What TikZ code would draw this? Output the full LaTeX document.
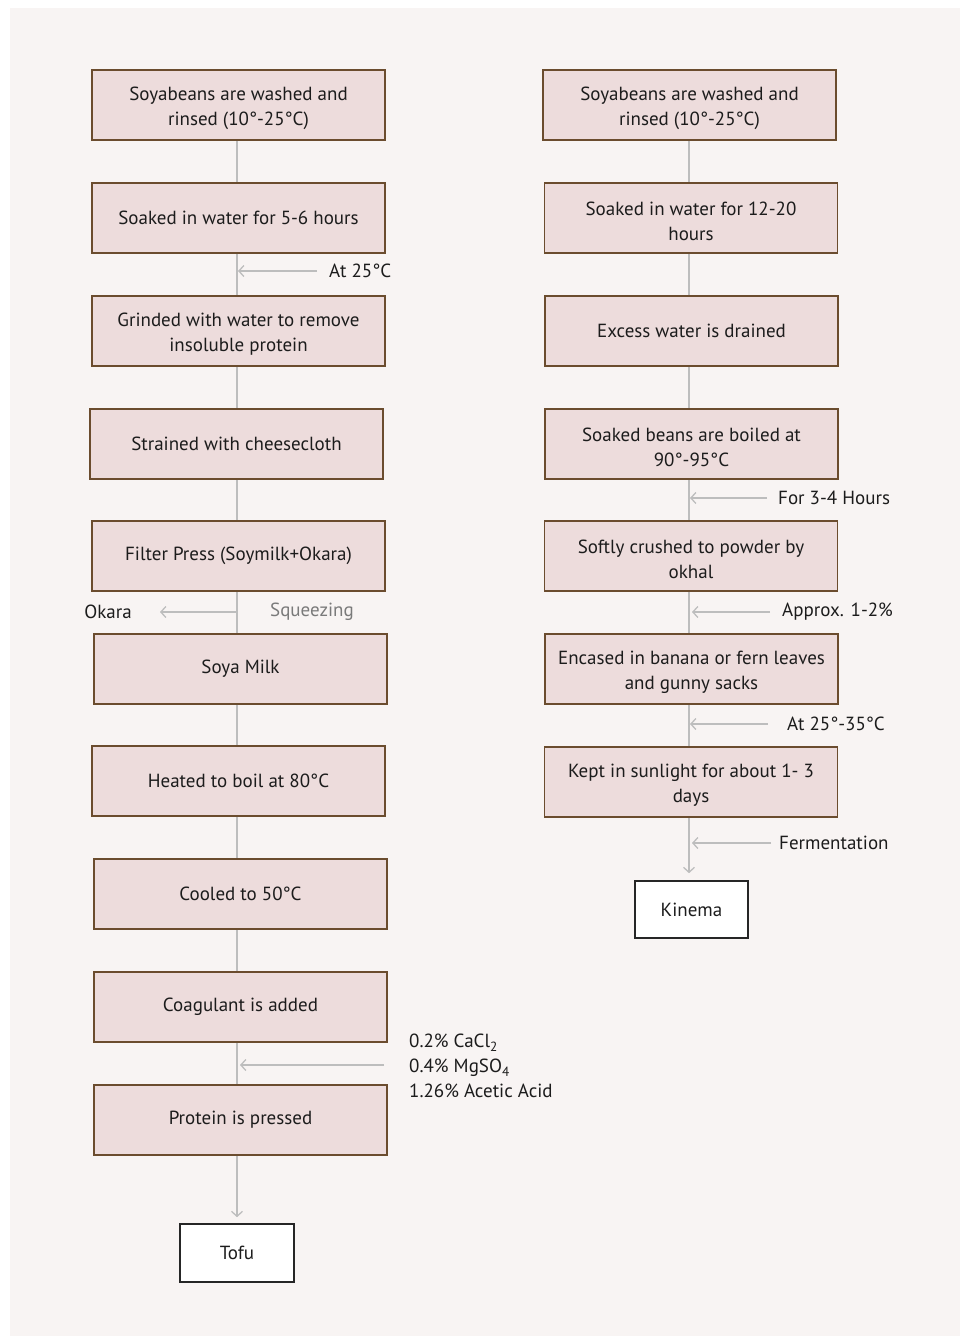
\documentclass[tikz,border=0pt]{standalone}
\usepackage{fontspec}
\setmainfont{PT Sans}
\usetikzlibrary{arrows.meta}
\definecolor{bg}{HTML}{F8F4F3}
\definecolor{boxfill}{HTML}{EDDCDC}
\definecolor{boxline}{HTML}{6B4C2E}
\definecolor{conn}{HTML}{BDBDBD}
\definecolor{txt}{HTML}{1C1C1C}
\definecolor{soft}{HTML}{7A7A7A}
\newcommand{\dg}{°}
\newcommand{\tup}{\rule{0pt}{20pt}}
\begin{document}
\begin{tikzpicture}[x=1pt,y=-1pt,
  stepbox/.style={draw=boxline,fill=boxfill,line width=1.6pt,minimum width=293pt,minimum height=70pt,align=center,inner sep=0pt,text=txt,font=\fontsize{19}{25}\selectfont},
  endbox/.style={draw=black!85,fill=white,line width=1.6pt,minimum width=113pt,minimum height=57pt,inner sep=0pt,text=txt,font=\fontsize{19}{25}\selectfont},
  lab/.style={inner sep=0pt,text=txt,font=\fontsize{19}{25}\selectfont,align=left},
  link/.style={draw=conn,line width=1.3pt},
  arr/.style={link,-{Straight Barb[length=5pt,width=11pt,line width=1.3pt]}}
]
\useasboundingbox (0,0) rectangle (960,1336);
\fill[bg] (10,8) rectangle (960,1336);

% column axes
\coordinate (LX) at (237,0);
\coordinate (RX) at (689,0);

% left column
\node[stepbox] (L1) at (238.5,105) {\tup Soyabeans are washed and\\rinsed (10\dg-25\dg C)};
\node[stepbox] (L2) at (238.5,218) {Soaked in water for 5-6 hours};
\node[stepbox] (L3) at (238.5,331) {\tup Grinded with water to remove\\insoluble protein};
\node[stepbox] (L4) at (236.5,444) {Strained with cheesecloth};
\node[stepbox] (L5) at (238.5,556) {Filter Press (Soymilk+Okara)};
\node[stepbox] (L6) at (240.5,669) {Soya Milk};
\node[stepbox] (L7) at (238.5,781) {Heated to boil at 80\dg C};
\node[stepbox] (L8) at (240.5,894) {Cooled to 50\dg C};
\node[stepbox] (L9) at (240.5,1007) {Coagulant is added};
\node[stepbox] (L10) at (240.5,1120) {Protein is pressed};
\node[endbox,minimum width=114pt,minimum height=58pt] (tofu) at (237,1253) {Tofu};

\foreach \a/\b in {L1/L2,L2/L3,L3/L4,L4/L5,L5/L6,L6/L7,L7/L8,L8/L9,L9/L10}
  \draw[link] (\a.south -| LX) -- (\b.north -| LX);
\draw[arr,shorten >=6pt] (L10.south -| LX) -- (tofu.north -| LX);

% left side notes
\node[lab,anchor=west] (n1) at (329,271) {At 25\dg C};
\coordinate (n1s) at (317,271);
\draw[arr] (n1s) -- (n1s -| 238,0);

\node[lab,anchor=west,text=soft] (sq) at (270,612) {Squeezing};
\node[lab,anchor=east] (ok) at (132,612) {Okara};
\coordinate (oks) at (237,612);
\coordinate (oke) at (160,612);
\draw[arr] (oks) -- (oke);

\node[lab,anchor=west] (chem) at (409,1066) {0.2\% CaCl\textsubscript{2}\\0.4\% MgSO\textsubscript{4}\\1.26\% Acetic Acid};
\coordinate (chs) at (384,1065);
\draw[arr] (chs) -- (chs -| 240,0);

% right column
\node[stepbox] (R1) at (689.5,105) {\tup Soyabeans are washed and\\rinsed (10\dg-25\dg C)};
\node[stepbox] (R2) at (691,218) {\tup Soaked in water for 12-20\\hours};
\node[stepbox] (R3) at (691.5,331) {Excess water is drained};
\node[stepbox] (R4) at (691.5,444) {\tup Soaked beans are boiled at\\90\dg-95\dg C};
\node[stepbox] (R5) at (691,556) {\tup Softly crushed to powder by\\okhal};
\node[stepbox] (R6) at (691.5,669) {\tup Encased in banana or fern leaves\\and gunny sacks};
\node[stepbox] (R7) at (691,782) {\tup Kept in sunlight for about 1- 3\\days};
\node[endbox] (kin) at (691.5,909.5) {Kinema};

\foreach \a/\b in {R1/R2,R2/R3,R3/R4,R4/R5,R5/R6,R6/R7}
  \draw[link] (\a.south -| RX) -- (\b.north -| RX);
\draw[arr,shorten >=7pt] (R7.south -| RX) -- (kin.north -| RX);

% right side notes
\node[lab,anchor=west] (m1) at (778,498) {For 3-4 Hours};
\coordinate (m1s) at (767,498);
\draw[arr] (m1s) -- (m1s -| 690,0);
\node[lab,anchor=west] (m2) at (782,612) {Approx. 1-2\%};
\coordinate (m2s) at (770,612);
\draw[arr] (m2s) -- (m2s -| 692,0);
\node[lab,anchor=west] (m3) at (787,724) {At 25\dg-35\dg C};
\coordinate (m3s) at (768,724);
\draw[arr] (m3s) -- (m3s -| 690,0);
\node[lab,anchor=west] (m4) at (779,843) {Fermentation};
\coordinate (m4s) at (771,843);
\draw[arr] (m4s) -- (m4s -| 692,0);
\end{tikzpicture}
\end{document}
